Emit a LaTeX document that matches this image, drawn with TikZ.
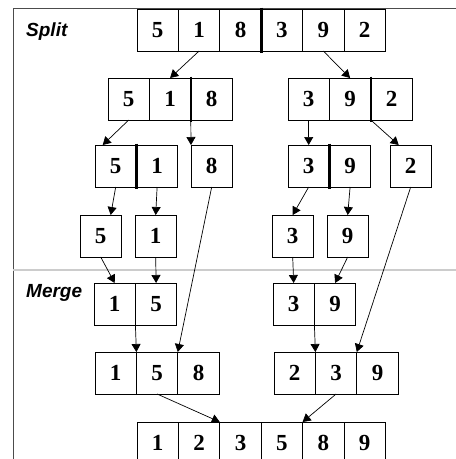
\documentclass[tikz,border=0pt]{standalone}
\usepackage{fontspec}
\setmainfont{Liberation Serif}
\newfontfamily\labelfont{Liberation Sans}
\usetikzlibrary{positioning,arrows.meta}

\begin{document}
\begin{tikzpicture}[x=1pt,y=-1pt]
    % styles
    \tikzset{
      frame/.style     = {line width=0.8pt, draw=black!70},
      splitline/.style = {line width=1.3pt, draw=black!20},
      cell/.style      = {draw=black, line width=0.8pt, minimum width=41.4pt,
                          minimum height=42pt, inner sep=0pt, outer sep=0pt,
                          font=\fontsize{23}{23}\selectfont\bfseries},
      divider/.style   = {line width=2.6pt, draw=black},
      flowarrow/.style = {-{Triangle[length=8pt,width=9pt]}, line width=0.7pt, draw=black},
      phase/.style     = {anchor=base west, inner sep=0pt,
                          font=\labelfont\fontsize{19}{19}\selectfont\bfseries\itshape}
    }
    \useasboundingbox (0,0) rectangle (456,459);

    % Frame:
    \draw[frame] (13,459) -- (13,8.5) -- (456,8.5);
    \draw[splitline] (13,270) -- (456,270);
    \node[phase] (split) at (26,36) {Split};
    \node[phase] (merge) at (26,297) {Merge};

    % Row 1:
    \node[cell, anchor=north west] (r1c1) at (137,9) {5};
    \node[cell, right=0pt of r1c1] (r1c2) {1};
    \node[cell, right=0pt of r1c2] (r1c3) {8};
    \node[cell, right=0pt of r1c3] (r1c4) {3};
    \node[cell, right=0pt of r1c4] (r1c5) {9};
    \node[cell, right=0pt of r1c5] (r1c6) {2};

    % Row 2:
    \node[cell, anchor=north west] (r2a1) at (108,78) {5};
    \node[cell, right=0pt of r2a1] (r2a2) {1};
    \node[cell, right=0pt of r2a2] (r2a3) {8};
    \node[cell, anchor=north west] (r2b1) at (288,78) {3};
    \node[cell, right=0pt of r2b1] (r2b2) {9};
    \node[cell, right=0pt of r2b2] (r2b3) {2};

    % Row 3:
    \node[cell, anchor=north west] (r3a1) at (95,145) {5};
    \node[cell, right=0pt of r3a1] (r3a2) {1};
    \node[cell, anchor=north west] (r3c) at (191,145) {8};
    \node[cell, anchor=north west] (r3b1) at (288,145) {3};
    \node[cell, right=0pt of r3b1] (r3b2) {9};
    \node[cell, anchor=north west] (r3d) at (390,145) {2};

    % Row 4:
    \node[cell, anchor=north west] (r4a) at (80,215) {5};
    \node[cell, anchor=north west] (r4b) at (135,215) {1};
    \node[cell, anchor=north west] (r4c) at (272,215) {3};
    \node[cell, anchor=north west] (r4d) at (327,215) {9};

    % Row 5:
    \node[cell, anchor=north west] (r5a1) at (94,283) {1};
    \node[cell, right=0pt of r5a1] (r5a2) {5};
    \node[cell, anchor=north west] (r5b1) at (273,283) {3};
    \node[cell, right=0pt of r5b1] (r5b2) {9};

    % Row 6:
    \node[cell, anchor=north west] (r6a1) at (95,352) {1};
    \node[cell, right=0pt of r6a1] (r6a2) {5};
    \node[cell, right=0pt of r6a2] (r6a3) {8};
    \node[cell, anchor=north west] (r6b1) at (274,352) {2};
    \node[cell, right=0pt of r6b1] (r6b2) {3};
    \node[cell, right=0pt of r6b2] (r6b3) {9};

    % Row 7:
    \node[cell, anchor=north west] (r7c1) at (137,422) {1};
    \node[cell, right=0pt of r7c1] (r7c2) {2};
    \node[cell, right=0pt of r7c2] (r7c3) {3};
    \node[cell, right=0pt of r7c3] (r7c4) {5};
    \node[cell, right=0pt of r7c4] (r7c5) {8};
    \node[cell, right=0pt of r7c5] (r7c6) {9};

    % Dividers:
    \draw[divider] ([yshift=1.5pt]r1c3.north east) -- ([yshift=-1.5pt]r1c3.south east);
    \draw[divider] ([yshift=1.5pt]r2a2.north east) -- ([yshift=-1.5pt]r2a2.south east);
    \draw[divider] ([yshift=1.5pt]r2b2.north east) -- ([yshift=-1.5pt]r2b2.south east);
    \draw[divider] ([yshift=1.5pt]r3a1.north east) -- ([yshift=-1.5pt]r3a1.south east);
    \draw[divider] ([yshift=1.5pt]r3b1.north east) -- ([yshift=-1.5pt]r3b1.south east);

    % Split arrows:
    \draw[flowarrow] (r1c2.south) -- (r2a2.north);
    \draw[flowarrow] (r1c5.south) -- (r2b2.north);
    \draw[flowarrow] (r2a1.south) -- ([xshift=-13pt]r3a1.north);
    \draw[flowarrow] (r2a2.south east) -- (r3c.north west);
    \draw[flowarrow] (r2b1.south) -- (r3b1.north);
    \draw[flowarrow] (r2b2.south east) -- ([xshift=-12pt]r3d.north);
    \draw[flowarrow] (r3a1.south) -- ([xshift=10pt]r4a.north);
    \draw[flowarrow] (r3a2.south) -- (r4b.north);
    \draw[flowarrow] (r3b1.south) -- (r4c.north);
    \draw[flowarrow] (r3b2.south) -- (r4d.north);

    % Merge arrows:
    \draw[flowarrow] (r4a.south) -- (r5a1.north);
    \draw[flowarrow] (r4b.south) -- (r5a2.north);
    \draw[flowarrow] (r4c.south) -- (r5b1.north);
    \draw[flowarrow] (r4d.south) -- (r5b2.north);
    \draw[flowarrow] (r5a1.south east) -- (r6a1.north east);
    \draw[flowarrow] (r3c.south) -- (r6a2.north east);
    \draw[flowarrow] (r5b1.south east) -- (r6b1.north east);
    \draw[flowarrow] (r3d.south) -- (r6b2.north east);
    \draw[flowarrow] (r6a2.south) -- (r7c2.north east);
    \draw[flowarrow] (r6b2.south) -- (r7c4.north east);
\end{tikzpicture}
\end{document}
